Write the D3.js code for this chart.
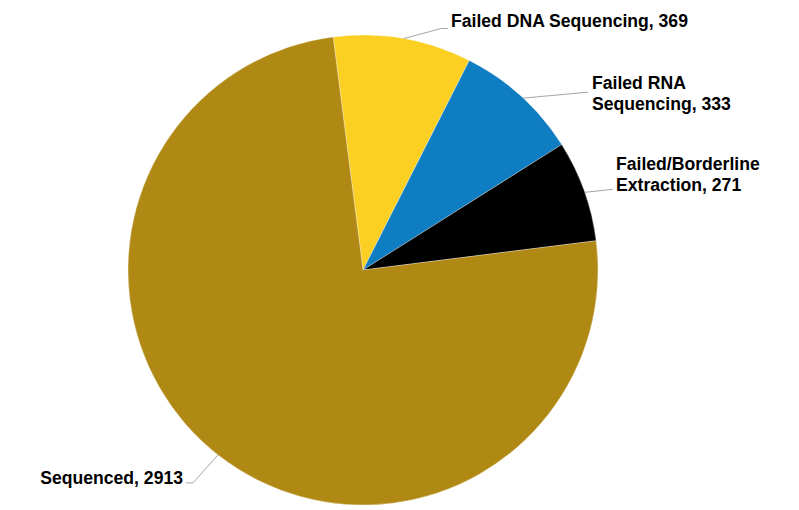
<!DOCTYPE html>
<html><head><meta charset="utf-8">
<script src="https://cdn.jsdelivr.net/npm/d3@7"></script>
<style>body{margin:0;background:#fff}svg{display:block}</style>
</head><body>
<svg id="c" width="799" height="510"></svg>
<script>
const categories = ["Failed DNA Sequencing", "Failed RNA Sequencing", "Failed/Borderline Extraction", "Sequenced"];
const values = [369, 333, 271, 2913];
const colors = ["#FBD023", "#0F7DC1", "#000000", "#B08915"];
const labelLines = [["Failed DNA Sequencing, 369"], ["Failed RNA", "Sequencing, 333"], ["Failed/Borderline", "Extraction, 271"], ["Sequenced, 2913"]];

const svg = d3.select("#c");
const cx = 363, cy = 270, r = 235;
const startOffset = -7.3 * Math.PI / 180;
const pie = d3.pie().sort(null).value(d => d)
  .startAngle(startOffset).endAngle(startOffset + 2 * Math.PI);
const arcs = pie(values);
const arc = d3.arc().innerRadius(0).outerRadius(r);
const g = svg.append("g").attr("transform", `translate(${cx},${cy})`);
g.selectAll("path").data(arcs).join("path")
  .attr("d", arc).attr("fill", (d, i) => colors[i])
  .attr("stroke", "#fff").attr("stroke-width", 0.6).attr("stroke-opacity", 0.5);

const leaderSpec = [
  {ang: 10, elbowDx: 37, elbowDy: -10, hor: 7, side: 1},
  {ang: 43, elbowDx: 65, elbowDy: -6, hor: 0, side: 1},
  {ang: 70.7, elbowDx: 28, elbowDy: -3, hor: 0, side: 1},
  {ang: 218.1, elbowDx: -25, elbowDy: 28, hor: -7, side: -1}
];
const toXY = a => [cx + r * Math.sin(a * Math.PI / 180), cy - r * Math.cos(a * Math.PI / 180)];
const textPos = [[451, 27], [592, 89], [616, 170], [183, 484]];
const lineGap = 20.5;
leaderSpec.forEach((s, i) => {
  const [x0, y0] = toXY(s.ang);
  const x1 = x0 + s.elbowDx, y1 = y0 + s.elbowDy;
  const pts = [[x0, y0], [x1, y1], [x1 + s.hor, y1]];
  svg.append("path").attr("d", d3.line()(pts)).attr("fill", "none")
    .attr("stroke", "#A6A6A6").attr("stroke-width", 1);
  const t = svg.append("text").attr("x", textPos[i][0]).attr("y", textPos[i][1])
    .attr("text-anchor", s.side > 0 ? "start" : "end")
    .attr("font-family", "Liberation Sans, Arial, sans-serif")
    .attr("font-weight", "bold").attr("font-size", 17.6).attr("fill", "#000");
  labelLines[i].forEach((ln, k) => {
    t.append("tspan").attr("x", textPos[i][0]).attr("dy", k === 0 ? 0 : lineGap).text(ln);
  });
});
</script>
</body></html>
